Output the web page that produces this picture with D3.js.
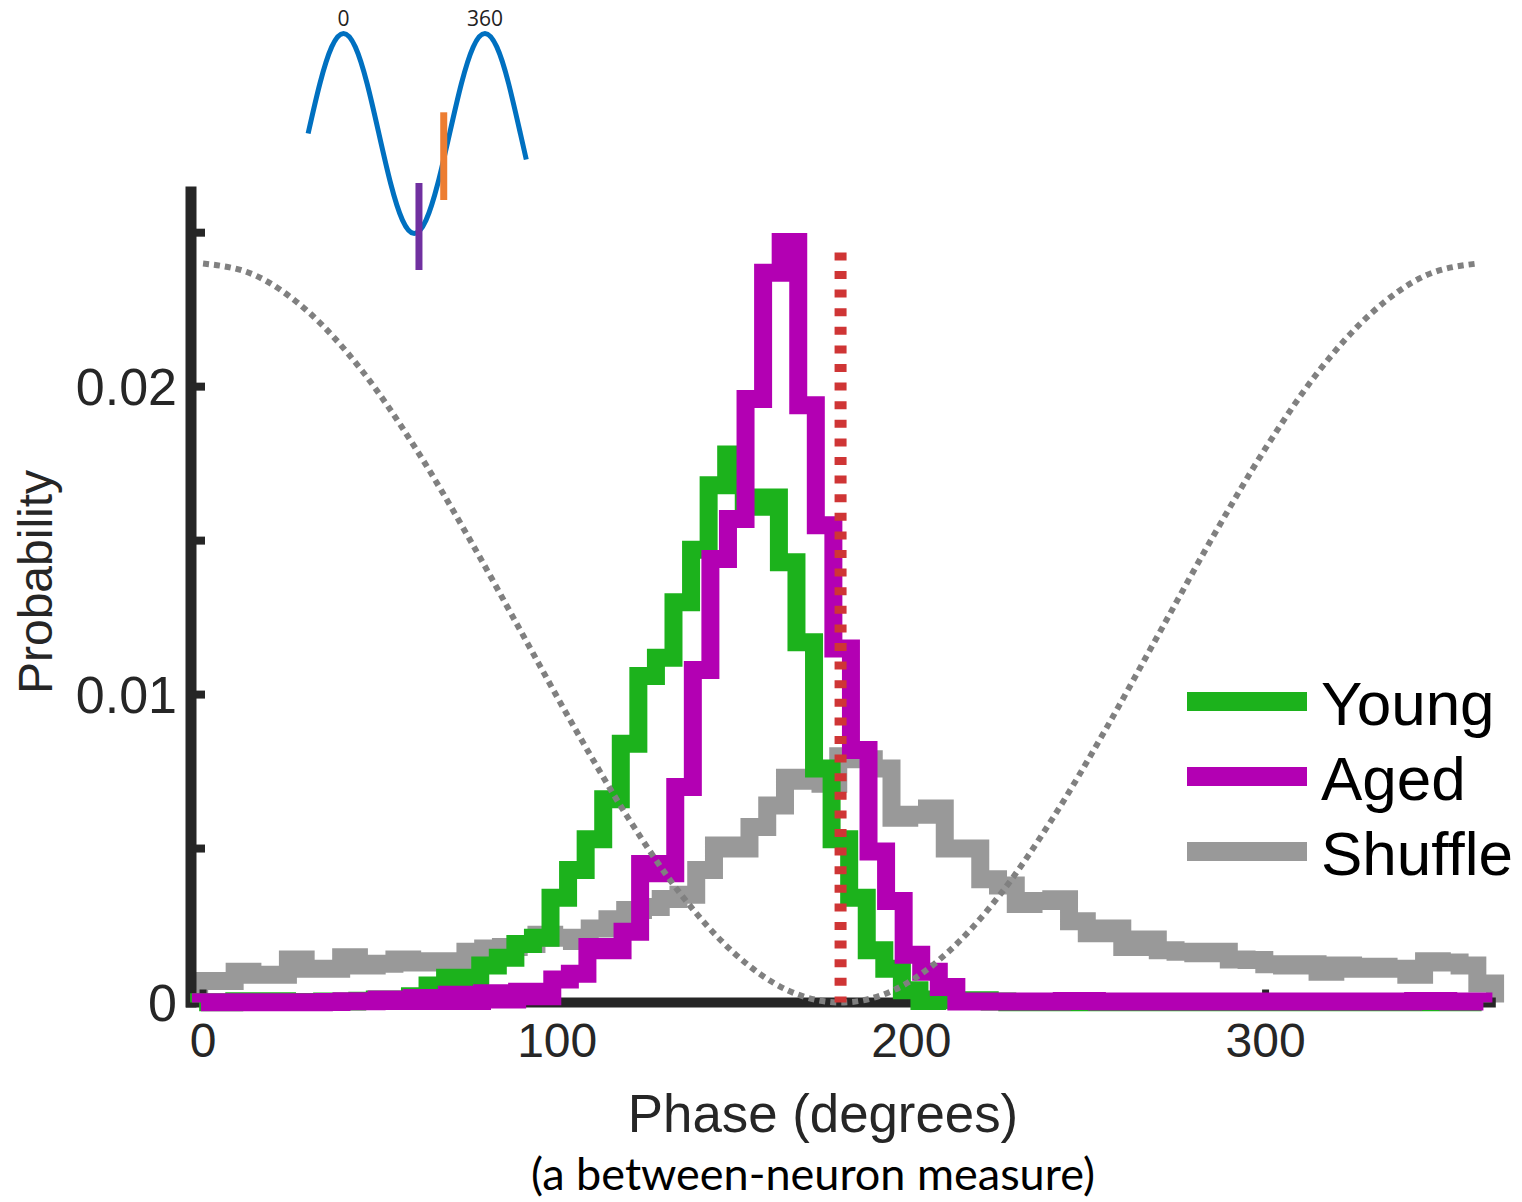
<!DOCTYPE html>
<html>
<head>
<meta charset="utf-8">
<script src="https://cdn.jsdelivr.net/npm/d3@7"></script>
<style>
body { margin: 0; background: #fff; }
text { font-family: "Liberation Sans", Arial, sans-serif; }
</style>
</head>
<body>
<script>

// histogram values (probability per bin)
var young = [0.00001, 0.00001, 0.00004, 0.00004, 0.00004, 0.00002, 0.00002, 0.00003, 0.00003, 0.00006,
	0.0001, 0.0001, 0.0002, 0.00055, 0.0008, 0.0008, 0.0012, 0.00145, 0.0019, 0.0021,
	0.0034, 0.0043, 0.0053, 0.0066, 0.0084, 0.0106, 0.0112, 0.0130, 0.0147, 0.0168,
	0.0178, 0.0161, 0.0164, 0.0143, 0.0117, 0.0076, 0.0053, 0.0034, 0.0017, 0.0011,
	0.0004, 0.00005, 0.0001, 0.00007, 0.00007, 0.00003, 0.00001, 0.00001, 0.00001, 0.00001,
	0.00001, 0.00001, 0.00001, 0.00001, 0.00001, 0.00001, 0.00001, 0.00001, 0.00001, 0.00001,
	0.00001, 0.00001, 0.00001, 0.00001, 0.00001, 0.00001, 0.00001, 0.00001, 0.00001, 0.00001,
	0.00001, 0.00001, 0.00001];

var aged = [0.00001, 0.00001, 0.00001, 0.00001, 0.00001, 0.00001, 0.00001, 0.00002, 0.00004, 0.00004,
	0.0001, 0.00005, 0.00015, 0.00005, 0.00025, 0.00005, 0.0003, 0.0001, 0.00035, 0.0002,
	0.00075, 0.00093, 0.0018, 0.0017, 0.0023, 0.0045, 0.0042, 0.0070, 0.0108, 0.0144,
	0.0157, 0.0196, 0.0237, 0.0247, 0.0194, 0.0155, 0.0115, 0.0082, 0.0049, 0.0033,
	0.00155, 0.0010, 0.0005, 0.00003, 0.00003, 0.00003, 0.00003, 0.00003, 0.00003, 0.00005,
	0.00005, 0.00003, 0.00003, 0.00003, 0.00003, 0.00003, 0.00003, 0.00003, 0.00003, 0.00003,
	0.00003, 0.00003, 0.00003, 0.00003, 0.00003, 0.00003, 0.00003, 0.00003, 0.00003, 0.00005,
	0.00005, 0.00003, 0.00003];

var shuffle = [0.0007, 0.0007, 0.001, 0.0009, 0.0009, 0.0014, 0.0011, 0.0011, 0.00147, 0.0012,
	0.00126, 0.0014, 0.0013, 0.00134, 0.0013, 0.00165, 0.00175, 0.0018, 0.0019, 0.0022,
	0.0021, 0.0020, 0.0024, 0.0027, 0.0030, 0.0031, 0.00336, 0.0035, 0.0043, 0.0051,
	0.0050, 0.0057, 0.0064, 0.0073, 0.0072, 0.0071, 0.0080, 0.0079, 0.0076, 0.0060,
	0.0061, 0.0063, 0.0050, 0.0050, 0.0040, 0.0038, 0.0032, 0.0033, 0.00335, 0.00264,
	0.00225, 0.0024, 0.0018, 0.00205, 0.0017, 0.00165, 0.0016, 0.00165, 0.0014, 0.00138,
	0.00124, 0.0012, 0.00124, 0.001, 0.0012, 0.0011, 0.00116, 0.0011, 0.0009, 0.00134,
	0.0013, 0.0012, 0.00062];

// first and last bin edge of each histogram (degrees)
var youngRange = [-1.1, 361.0];
var agedRange = [-0.6, 361.5];
var shuffleRange = [-1.1, 364.8];

// dotted cosine reference, read every 15 degrees
var cosPhase = [0, 15, 30, 45, 60, 75, 90, 105, 120, 135, 150, 165, 180,
	195, 210, 225, 240, 255, 270, 285, 300, 315, 330, 345, 360];
var cosValue = [0.0240, 0.0236, 0.0224, 0.0205, 0.0180, 0.0151, 0.0120, 0.0089, 0.0060, 0.0035, 0.0016, 0.0004, 0.0000,
	0.0004, 0.0016, 0.0035, 0.0060, 0.0089, 0.0120, 0.0151, 0.0180, 0.0205, 0.0224, 0.0236, 0.0240];

// red dotted line
var markPhase = 180;
var markTop = 0.02436;

var xTicks = [0, 100, 200, 300];
var yTicks = [0, 0.005, 0.01, 0.015, 0.02, 0.025];
var yTickLabels = ["0", "", "0.01", "", "0.02", ""];

var legendNames = ["Young", "Aged", "Shuffle"];
var legendColors = ["#1cb21c", "#b300b3", "#999999"];

// inset wave (schematic of the oscillation, one cycle labelled 0..360)
var wavePhase = [-90, -60, -30, 0, 30, 60, 90, 120, 150, 180, 210, 240, 270, 300, 330, 360, 390, 420, 450, 465];
var waveValue = [0, 0.5, 0.866, 1, 0.866, 0.5, 0, -0.5, -0.866, -1, -0.866, -0.5, 0, 0.5, 0.866, 1, 0.866, 0.5, 0, -0.26];
var waveLabels = [0, 360];
var barPhase = [192, 255];
var barLow = [-1.365, -0.665];
var barHigh = [-0.495, 0.212];
var barColors = ["#7030a0", "#ed7d31"];

var axisColor = "#262626";

var svg = d3.select("body").append("svg")
	.attr("width", 1522)
	.attr("height", 1202);

var x = d3.scaleLinear().domain([-3.4, 365]).range([191, 1495.8]);
var y = d3.scaleLinear().domain([0, 0.0265]).range([1002.5, 186.5]);

// stair outline of a histogram
function stairs(vals, range) {
	var n = vals.length,
		e = d3.range(n + 1).map(function(i) { return range[0] + (range[1] - range[0]) * i / n; });
	var pts = [[e[0], 0]];
	vals.forEach(function(v, i) {
		pts.push([e[i], v]);
		pts.push([e[i + 1], v]);
	});
	pts.push([e[n], 0]);
	return pts;
}

var line = d3.line()
	.x(function(d) { return x(d[0]); })
	.y(function(d) { return y(d[1]); });

function drawHist(vals, range, color) {
	svg.append("path")
		.attr("class", "hist")
		.attr("d", line(stairs(vals, range)))
		.attr("fill", "none")
		.attr("stroke", color)
		.attr("stroke-width", 18)
		.attr("stroke-linejoin", "miter")
		.attr("stroke-miterlimit", 10)
		.attr("stroke-linecap", "butt");
}

// shuffle sits under the axis lines
drawHist(shuffle, shuffleRange, legendColors[2]);

// x axis line + ticks
svg.append("line")
	.attr("x1", 186).attr("x2", x(365))
	.attr("y1", y(0)).attr("y2", y(0))
	.attr("stroke", axisColor)
	.attr("stroke-width", 10);

svg.selectAll(".xtick")
	.data(xTicks)
	.enter().append("line")
	.attr("class", "xtick")
	.attr("x1", function(d) { return x(d); })
	.attr("x2", function(d) { return x(d); })
	.attr("y1", y(0))
	.attr("y2", y(0) - 13)
	.attr("stroke", axisColor)
	.attr("stroke-width", 7);

svg.selectAll(".xlabel")
	.data(xTicks)
	.enter().append("text")
	.attr("class", "xlabel")
	.attr("x", function(d) { return x(d); })
	.attr("y", 1057)
	.attr("text-anchor", "middle")
	.attr("font-size", 48)
	.attr("fill", axisColor)
	.text(function(d) { return d; });

// y axis line + ticks
svg.append("line")
	.attr("x1", x(-3.4)).attr("x2", x(-3.4))
	.attr("y1", y(0) + 5).attr("y2", y(0.0265))
	.attr("stroke", axisColor)
	.attr("stroke-width", 11);

svg.selectAll(".ytick")
	.data(yTicks)
	.enter().append("line")
	.attr("class", "ytick")
	.attr("x1", x(-3.4))
	.attr("x2", x(-3.4) + 14)
	.attr("y1", function(d) { return y(d); })
	.attr("y2", function(d) { return y(d); })
	.attr("stroke", axisColor)
	.attr("stroke-width", 8);

svg.selectAll(".ylabel")
	.data(yTicks)
	.enter().append("text")
	.attr("class", "ylabel")
	.attr("x", 177)
	.attr("y", function(d) { return y(d) + 18; })
	.attr("text-anchor", "end")
	.attr("font-size", 52)
	.attr("fill", axisColor)
	.text(function(d, i) { return yTickLabels[i]; });

// axis titles
svg.append("text")
	.attr("transform", "translate(52,582) rotate(-90)")
	.attr("text-anchor", "middle")
	.attr("font-size", 48)
	.attr("fill", axisColor)
	.text("Probability");

svg.append("text")
	.attr("x", 823)
	.attr("y", 1132)
	.attr("text-anchor", "middle")
	.attr("font-size", 52.8)
	.attr("fill", axisColor)
	.text("Phase (degrees)");

svg.append("text")
	.attr("x", 813)
	.attr("y", 1190)
	.attr("text-anchor", "middle")
	.attr("font-size", 45)
	.style("font-family", "Lato, 'Open Sans', sans-serif")
	.attr("fill", "#000")
	.text("(a between-neuron measure)");

drawHist(young, youngRange, legendColors[0]);
drawHist(aged, agedRange, legendColors[1]);

// cosine reference
svg.append("path")
	.datum(d3.zip(cosPhase, cosValue))
	.attr("d", line.curve(d3.curveMonotoneX))
	.attr("fill", "none")
	.attr("stroke", "#808080")
	.attr("stroke-width", 6)
	.attr("stroke-dasharray", "6 5");
line.curve(d3.curveLinear);

// red dotted line at 180
svg.append("line")
	.attr("x1", x(markPhase)).attr("x2", x(markPhase))
	.attr("y1", y(markTop)).attr("y2", y(0))
	.attr("stroke", "#cf3535")
	.attr("stroke-width", 12)
	.attr("stroke-dasharray", "8 10.6");

// legend
var legend = svg.selectAll(".legend")
	.data(legendNames)
	.enter().append("g")
	.attr("class", "legend")
	.attr("transform", function(d, i) { return "translate(0," + (725 + i * 75) + ")"; });

legend.append("line")
	.attr("x1", 1187).attr("x2", 1307)
	.attr("y1", -23.5).attr("y2", -23.5)
	.attr("stroke", function(d, i) { return legendColors[i]; })
	.attr("stroke-width", 19);

legend.append("text")
	.attr("x", 1321)
	.attr("font-size", 62)
	.attr("fill", "#000")
	.text(function(d) { return d; });

// inset wave
var ix = d3.scaleLinear().domain([0, 360]).range([343.5, 485]);
var iy = d3.scaleLinear().domain([-1, 1]).range([233.5, 33.5]);

svg.append("path")
	.datum(d3.zip(wavePhase, waveValue))
	.attr("d", d3.line()
		.x(function(d) { return ix(d[0]); })
		.y(function(d) { return iy(d[1]); })
		.curve(d3.curveNatural))
	.attr("fill", "none")
	.attr("stroke", "#0070c0")
	.attr("stroke-width", 5);

svg.selectAll(".wlabel")
	.data(waveLabels)
	.enter().append("text")
	.attr("class", "wlabel")
	.attr("x", function(d) { return ix(d); })
	.attr("y", 26)
	.attr("text-anchor", "middle")
	.attr("font-size", 21)
	.style("font-family", "'Open Sans', sans-serif")
	.attr("fill", "#222")
	.text(function(d) { return d; });

svg.selectAll(".wbar")
	.data(barPhase)
	.enter().append("line")
	.attr("class", "wbar")
	.attr("x1", function(d) { return ix(d); })
	.attr("x2", function(d) { return ix(d); })
	.attr("y1", function(d, i) { return iy(barLow[i]); })
	.attr("y2", function(d, i) { return iy(barHigh[i]); })
	.attr("stroke", function(d, i) { return barColors[i]; })
	.attr("stroke-width", 7);

</script>
</body>
</html>
